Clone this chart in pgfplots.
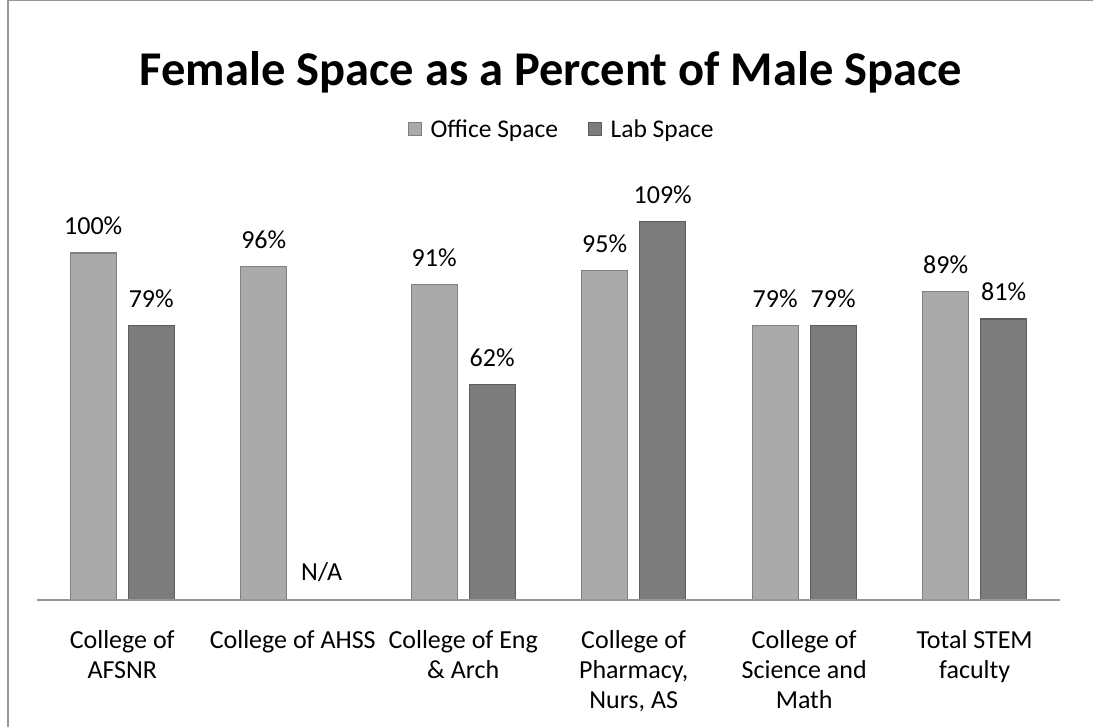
\documentclass[border=0pt]{standalone}
\usepackage{pgfplots}
\pgfplotsset{compat=1.18}
\usepackage{fontspec}
\setmainfont{Carlito}
\definecolor{officec}{RGB}{170,170,170}
\definecolor{labc}{RGB}{124,124,124}
\definecolor{framec}{RGB}{150,150,150}
\begin{document}
\begin{tikzpicture}
\useasboundingbox (0,0) rectangle (1093pt,727pt);
\draw[framec, line width=1.2pt] (8pt,0) -- (8pt,726.4pt) -- (1093pt,726.4pt);
\node[font=\bfseries\fontsize{48.5}{52}\selectfont] at (551pt,655pt) {Female Space as a Percent of Male Space};
\begin{axis}[
  at={(37pt,127pt)}, anchor=south west,
  scale only axis, width=1023pt, height=416.4pt,
  xmin=-0.5, xmax=5.5, ymin=0, ymax=120,
  axis y line=none, axis x line*=bottom,
  axis on top,
  x axis line style={draw=framec, line width=1.5pt, -},
  xtick={0,1,2,3,4,5},
  xticklabels={{College of\\AFSNR}, {College of AHSS}, {College of Eng\\\& Arch}, {College of\\Pharmacy,\\Nurs, AS}, {College of\\Science and\\Math}, {Total STEM\\faculty}},
  xticklabel style={align=center, font=\fontsize{26}{30}\selectfont, yshift=-27pt, anchor=north},
  major tick length=0pt,
  ybar=12pt, bar width=46pt,
  clip=false,
  point meta=explicit symbolic,
  nodes near coords,
  every node near coord/.append style={font=\fontsize{26}{28}\selectfont, text=black, yshift=14pt},
  legend style={at={(0.513,1.129)}, anchor=center, draw=none, legend columns=2, font=\fontsize{25.5}{28}\selectfont, /tikz/every even column/.append style={column sep=28pt}},
  legend image code/.code={\fill[#1] (0pt,-6pt) rectangle (13pt,7pt); \path[draw=none,fill=none] (0pt,0pt) -- (20pt,0pt);},
]
\addplot[fill=officec, draw=officec!75!black, line width=1.2pt] coordinates {
(0,100) [100\%]
(1,96) [96\%]
(2,91) [91\%]
(3,95) [95\%]
(4,79) [79\%]
(5,89) [89\%]
};
\addplot[fill=labc, draw=labc!75!black, line width=1.2pt] coordinates {
(0,79) [79\%]
(1,0) [N/A]
(2,62) [62\%]
(3,109) [109\%]
(4,79) [79\%]
(5,81) [81\%]
};
\legend{Office Space, Lab Space}
\end{axis}
\end{tikzpicture}
\end{document}
